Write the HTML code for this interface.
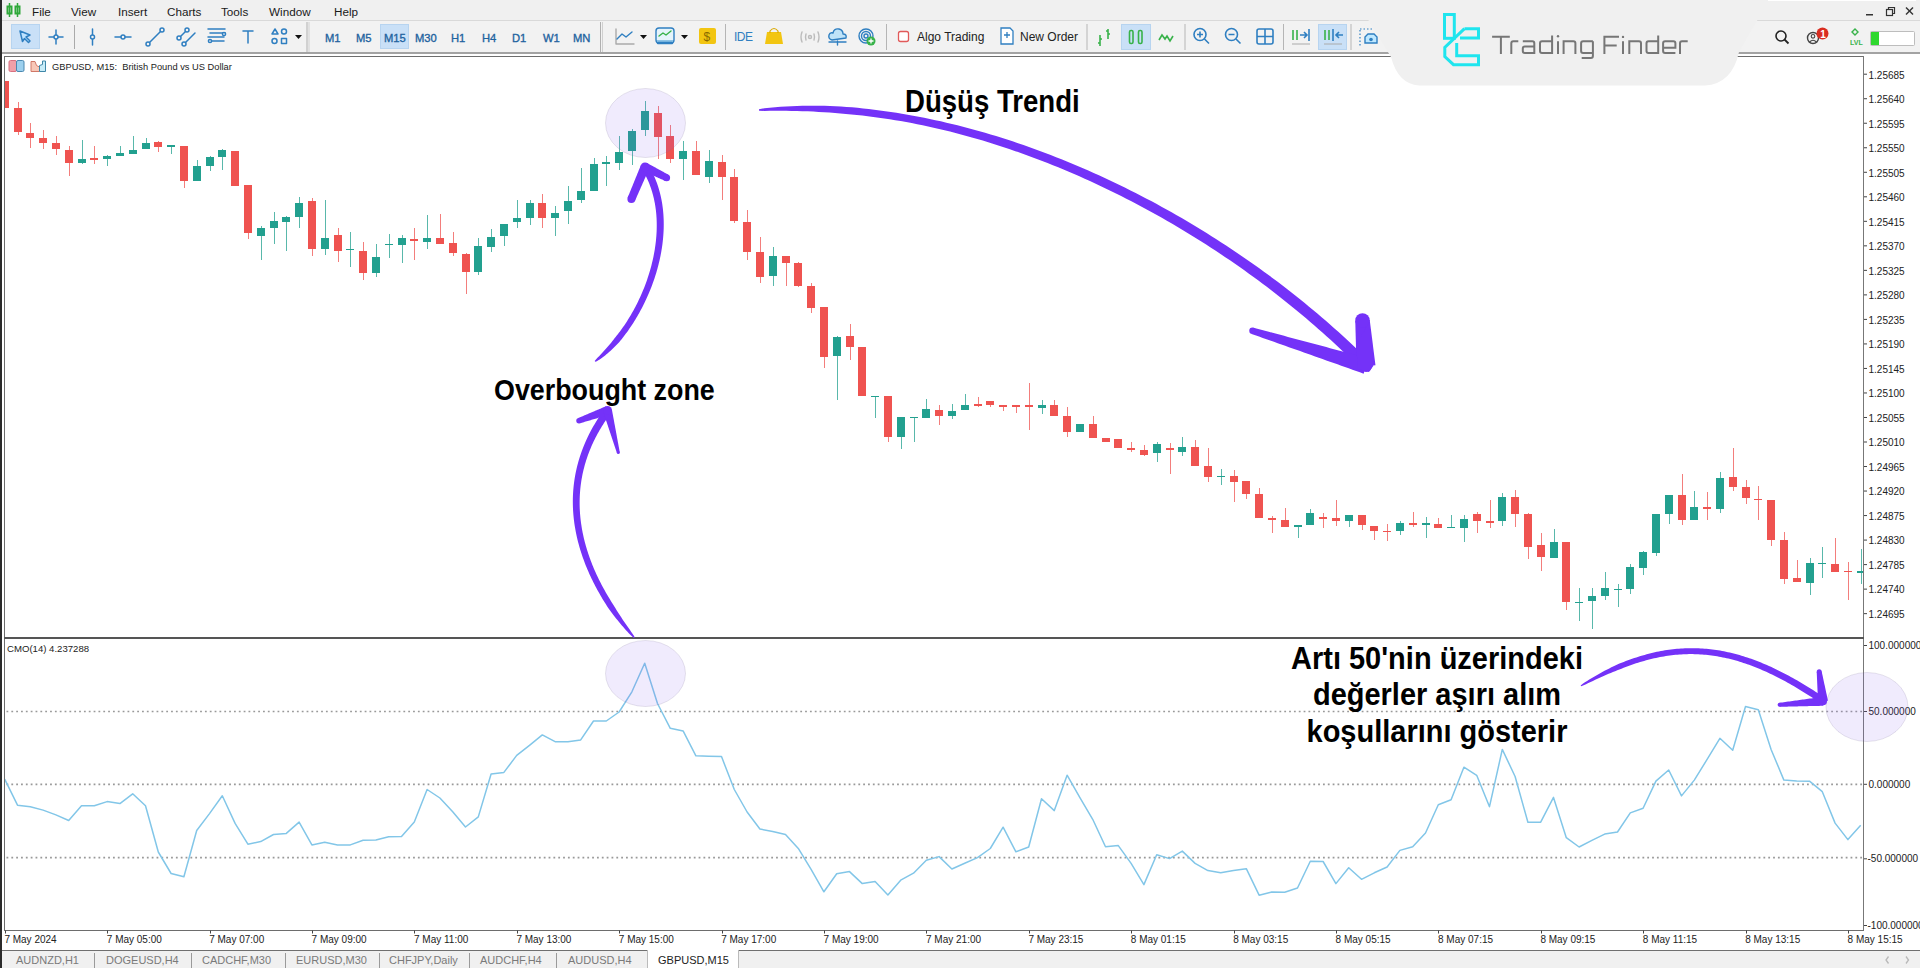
<!DOCTYPE html>
<html><head><meta charset="utf-8">
<style>
*{margin:0;padding:0;box-sizing:border-box}
html,body{width:1920px;height:968px;overflow:hidden;background:#f0f0f0;font-family:"Liberation Sans",sans-serif}
.a{position:absolute}
#menu{left:0;top:0;width:1920px;height:21px;background:#f0f0f0}
#menu span{position:absolute;top:4.5px;font-size:11.7px;color:#1a1a1a}
#mline{left:0;top:20px;width:1920px;height:1px;background:#d9d9d9}
#tb{left:0;top:21px;width:1920px;height:31px;background:#f2f2f2}
#tbl{left:0;top:52px;width:1920px;height:2px;background:#a3a3a3}
#white{left:2px;top:54px;width:1918px;height:896px;background:#fff}
#lbar{left:0;top:0;width:2px;height:968px;background:#2b2b2b}
.sel{position:absolute;background:#c9e0f7;border:1px solid #b7d4f0}
.sep{position:absolute;top:25px;width:1px;height:24px;background:#b5b5b5}
.tf{position:absolute;top:31.8px;font-size:11.2px;color:#1f639f;-webkit-text-stroke:0.35px #1f639f}
.tt{position:absolute;top:30px;font-size:12px;color:#222}
#tabs{left:2px;top:950px;width:1918px;height:18px;background:#f0f0f0;border-top:1.5px solid #6f6f6f}
#tabs span{position:absolute;top:3px;font-size:11px;color:#7a7a7a;white-space:nowrap}
#tabs i{position:absolute;top:2px;width:1px;height:16px;background:#9a9a9a}
.ann{position:absolute;font-weight:bold;color:#000;white-space:nowrap;transform-origin:0 0}
</style></head><body>
<div class="a" id="menu">
  <svg class="a" style="left:6px;top:3px" width="16" height="15" viewBox="0 0 16 15">
    <g fill="none" stroke="#2fa83a" stroke-width="2"><rect x="1.5" y="3.5" width="4" height="7"/><rect x="9.5" y="3.5" width="4" height="7"/></g>
    <g stroke="#2fa83a" stroke-width="1.5"><line x1="3.5" y1="0" x2="3.5" y2="14"/><line x1="11.5" y1="0" x2="11.5" y2="14"/></g>
  </svg>
  <span style="left:32px">File</span><span style="left:71px">View</span><span style="left:118px">Insert</span>
  <span style="left:167px">Charts</span><span style="left:221px">Tools</span><span style="left:269px">Window</span><span style="left:334px">Help</span>
  <svg class="a" style="left:1862px;top:5px" width="56" height="14" viewBox="0 0 56 14">
    <rect x="4" y="9" width="7" height="1.5" fill="#333"/>
    <g fill="none" stroke="#333" stroke-width="1.2"><rect x="24.5" y="4.5" width="6" height="6"/><path d="M26.5 4.5V2.5h6v6h-2"/></g>
    <g stroke="#333" stroke-width="1.4"><line x1="44" y1="2.5" x2="51" y2="9.5"/><line x1="51" y1="2.5" x2="44" y2="9.5"/></g>
  </svg>
</div>
<div class="a" id="mline"></div>
<div class="a" id="tb"></div>
<div class="a" id="tbl"></div>
<div class="a" id="white"></div>

<!-- toolbar contents -->
<div class="sel" style="left:11px;top:24px;width:29px;height:25px"></div>
<div class="sel" style="left:380px;top:24px;width:29px;height:25px"></div>
<div class="sel" style="left:1121px;top:24px;width:30px;height:26px"></div>
<div class="sel" style="left:1318px;top:24px;width:29px;height:26px"></div>
<svg class="a" style="left:0;top:21px" width="1400" height="32" viewBox="0 21 1400 32">
 <g fill="#f2f2f2" stroke="#2f7fc1" stroke-width="1.5" stroke-linecap="round" stroke-linejoin="round">
  <path d="M20 31 L30 35 L26 37 L30 41 L28.5 42.5 L24.5 38.5 L22.5 41.5 Z" fill="#bfe3ff"/>
  <path d="M49 37h14M56 30v14"/><circle cx="56" cy="37" r="2"/>
  <path d="M92.5 29v16"/><circle cx="92.5" cy="37" r="2"/>
  <path d="M115 37h16"/><circle cx="123" cy="37" r="2"/>
  <path d="M149 43L161 31"/><circle cx="148" cy="44" r="2"/><circle cx="162" cy="30" r="2"/>
  <path d="M180 37L186 31M184 44L195 33"/><circle cx="179" cy="38" r="2"/><circle cx="187" cy="30" r="2"/><circle cx="184" cy="44" r="2"/>
  <path d="M208 29h17M210 33h15M208 37h16M210 41h14"/><circle cx="224" cy="34" r="1.6"/><circle cx="210" cy="41" r="1.6"/>
  <path d="M243 31h10M248 31v12"/>
  <path d="M272 34l3-5 3 5z"/><circle cx="284" cy="31.5" r="2.5"/><circle cx="274.5" cy="41" r="2.5"/><rect x="281.5" y="38.5" width="5" height="5"/>
 </g>
 <path d="M295 35h7l-3.5 4z" fill="#111"/>
 <rect x="74" y="25" width="1" height="24" fill="#aaa"/>
 <rect x="306.5" y="22" width="1" height="30" fill="#b0b0b0"/><rect x="308.5" y="22" width="1" height="30" fill="#d0d0d0"/>
</svg>
<span class="tf" style="left:325px">M1</span><span class="tf" style="left:356px">M5</span><span class="tf" style="left:384px">M15</span>
<span class="tf" style="left:415px">M30</span><span class="tf" style="left:451px">H1</span><span class="tf" style="left:482px">H4</span>
<span class="tf" style="left:512px">D1</span><span class="tf" style="left:543px">W1</span><span class="tf" style="left:573px">MN</span>
<svg class="a" style="left:590px;top:21px" width="800" height="32" viewBox="590 21 800 32">
 <rect x="600" y="22" width="1" height="30" fill="#b0b0b0"/><rect x="602" y="22" width="1" height="30" fill="#d0d0d0"/>
 <g fill="none" stroke-width="1.4" stroke-linecap="round" stroke-linejoin="round">
  <path d="M616 29v15h18" stroke="#aaa"/><path d="M617 39l5-5 4 3 6-5" stroke="#2f7fc1"/>
  <rect x="656" y="28" width="18" height="15" rx="3" stroke="#2f7fc1" fill="#e6f4fb"/><path d="M659 36l4-3 3 2 5-4" stroke="#38b24a"/><path d="M657 40h16v2.5h-16z" fill="#8cc3e6" stroke="none"/>
  <path d="M658 43h14" stroke="#2f7fc1" stroke-width="2.5"/>
  <path d="M802 32q-2 5 0 10M806 34q-1 3 0 6M814 34q1 3 0 6M818 32q2 5 0 10" stroke="#bbb"/><circle cx="810" cy="37" r="1.5" stroke="#bbb"/>
  <path d="M832 40q-4-1-3-5 1-3 4-2 1-5 6-4 4 1 4 5 4 0 3 4z" stroke="#2f7fc1" fill="#bfe3f8"/><path d="M829 42h17M837.5 41v4" stroke="#2f7fc1"/>
  <circle cx="866" cy="36" r="7" stroke="#2f7fc1"/><circle cx="866" cy="36" r="4.5" stroke="#2f7fc1"/><circle cx="866" cy="36" r="2" stroke="#2f7fc1"/>
 </g>
 <path d="M640 35h7l-3.5 4z M681 35h7l-3.5 4z" fill="#111"/>
 <rect x="699" y="28" width="17" height="16" rx="2" fill="#f2c511"/><text x="703.5" y="41" font-size="12" fill="#8a6a00" font-family="Liberation Sans">$</text>
 <rect x="725" y="24" width="1" height="26" fill="#b5b5b5"/>
 <text x="734" y="41" font-size="12" fill="#2f7fc1" font-family="Liberation Sans" letter-spacing="-0.5">IDE</text>
 <path d="M767 32h14l2 12h-18z" fill="#f2c511"/><path d="M770 33v-2q4-5 8 0v2" fill="none" stroke="#d9a800" stroke-width="1.2"/>
 <circle cx="871" cy="41" r="4.5" fill="#38b24a"/><path d="M871 38.5v5M868.5 41h5" stroke="#fff" stroke-width="1.3"/>
 <rect x="886" y="24" width="1" height="26" fill="#b5b5b5"/>
 <rect x="898.5" y="31.5" width="10" height="10" rx="2" fill="#fff" stroke="#e15a5a" stroke-width="1.3"/>
 <path d="M1001 28h9l3 3v13h-12z" fill="#fff" stroke="#2f7fc1" stroke-width="1.3"/><path d="M1007 32v6M1004 35h6" stroke="#2f7fc1" stroke-width="1.3"/>
 <rect x="1086.5" y="24" width="1" height="26" fill="#b5b5b5"/>
 <g stroke="#38b24a" stroke-width="1.6" fill="none">
  <path d="M1100 35v11M1100 39h2M1098 43h2M1108 29v10M1106 31h2M1108 34h2"/>
  <rect x="1129.5" y="30.5" width="3.5" height="13" rx="1.5"/><rect x="1138.5" y="30.5" width="3.5" height="13" rx="1.5"/>
  <path d="M1159 40l3-5 3 4 2-3 3 5 3-5"/>
 </g>
 <rect x="1184.5" y="24" width="1" height="26" fill="#b5b5b5"/>
 <g stroke="#2f7fc1" stroke-width="1.6" fill="none">
  <circle cx="1200" cy="34.5" r="6"/><path d="M1204.5 39l4.5 4.5M1197 34.5h6M1200 31.5v6"/>
  <circle cx="1231.5" cy="34.5" r="6"/><path d="M1236 39l4.5 4.5M1228.5 34.5h6"/>
  <rect x="1257" y="29" width="16" height="15" rx="2"/><path d="M1265 29v15M1257 36.5h16"/>
 </g>
 <rect x="1283" y="24" width="1" height="26" fill="#b5b5b5"/>
 <g stroke-width="1.6" fill="none">
  <path d="M1293 30v10M1297 30v10" stroke="#38b24a"/><path d="M1300 35h7M1304 32l3 3-3 3M1309 29v12" stroke="#2f7fc1"/>
  <path d="M1325 30v10M1329 30v10" stroke="#38b24a"/><path d="M1333 29v12M1336 35h7M1339 32l-3 3 3 3" stroke="#2f7fc1"/>
  <path d="M1292 44h18M1324 44h18" stroke="#aaa" stroke-width="1"/>
 </g>
 <rect x="1350.5" y="24" width="1" height="26" fill="#b5b5b5"/>
 <path d="M1360 30v16M1360 29h12" stroke="#2f7fc1" stroke-width="1.2" stroke-dasharray="1.5 2" fill="none"/>
 <path d="M1365 43v-6l3-3h6l3 3v6z" fill="#bfe8ff" stroke="#2f7fc1" stroke-width="1.4"/><circle cx="1371" cy="39.5" r="1.8" fill="#2f7fc1"/>
</svg>
<span class="tt" style="left:917px">Algo Trading</span>
<span class="tt" style="left:1020px">New Order</span>

<svg id="ch" class="a" style="left:0;top:0" width="1920" height="968" viewBox="0 0 1920 968">
<defs><clipPath id="cm"><rect x="5" y="57" width="1858.5" height="581"/></clipPath><clipPath id="ci"><rect x="5" y="639" width="1858.5" height="291"/></clipPath></defs>
<g clip-path="url(#cm)" shape-rendering="crispEdges">
<rect x="5" y="81" width="1" height="27.2" fill="#ef5350" opacity="0.75"/>
<rect x="1" y="81" width="8" height="27.2" fill="#ef5350"/>
<rect x="18" y="101.7" width="1" height="32.8" fill="#ef5350" opacity="0.75"/>
<rect x="14" y="107.8" width="8" height="24.5" fill="#ef5350"/>
<rect x="30" y="122.7" width="1" height="25.4" fill="#ef5350" opacity="0.75"/>
<rect x="26" y="132.6" width="8" height="5" fill="#ef5350"/>
<rect x="43" y="129.5" width="1" height="19.9" fill="#ef5350" opacity="0.75"/>
<rect x="39" y="138.2" width="8" height="5" fill="#ef5350"/>
<rect x="56" y="136.4" width="1" height="18.6" fill="#ef5350" opacity="0.75"/>
<rect x="52" y="142.9" width="8" height="6.1" fill="#ef5350"/>
<rect x="69" y="146.3" width="1" height="29.7" fill="#ef5350" opacity="0.75"/>
<rect x="65" y="150" width="8" height="13" fill="#ef5350"/>
<rect x="82" y="140" width="1" height="24.3" fill="#22a08f" opacity="0.75"/>
<rect x="78" y="158.7" width="8" height="4.3" fill="#22a08f"/>
<rect x="94" y="145.7" width="1" height="18.6" fill="#ef5350" opacity="0.75"/>
<rect x="90" y="158.4" width="8" height="1.2" fill="#ef5350"/>
<rect x="107" y="154.9" width="1" height="10.6" fill="#22a08f" opacity="0.75"/>
<rect x="103" y="155.6" width="8" height="3.3" fill="#22a08f"/>
<rect x="120" y="145.8" width="1" height="9.8" fill="#22a08f" opacity="0.75"/>
<rect x="116" y="153.1" width="8" height="2.5" fill="#22a08f"/>
<rect x="133" y="135.9" width="1" height="17.9" fill="#22a08f" opacity="0.75"/>
<rect x="129" y="150.2" width="8" height="3.6" fill="#22a08f"/>
<rect x="146" y="137.8" width="1" height="10.9" fill="#22a08f" opacity="0.75"/>
<rect x="142" y="142.9" width="8" height="5.8" fill="#22a08f"/>
<rect x="158" y="140.7" width="1" height="10.9" fill="#ef5350" opacity="0.75"/>
<rect x="154" y="142.1" width="8" height="4.4" fill="#ef5350"/>
<rect x="171" y="145.4" width="1" height="8.4" fill="#22a08f" opacity="0.75"/>
<rect x="167" y="145.4" width="8" height="1.2" fill="#22a08f"/>
<rect x="184" y="146.2" width="1" height="41.5" fill="#ef5350" opacity="0.75"/>
<rect x="180" y="146.2" width="8" height="35" fill="#ef5350"/>
<rect x="197" y="160" width="1" height="21.2" fill="#22a08f" opacity="0.75"/>
<rect x="193" y="165.8" width="8" height="15.4" fill="#22a08f"/>
<rect x="210" y="156.4" width="1" height="14.2" fill="#22a08f" opacity="0.75"/>
<rect x="206" y="157.1" width="8" height="8.7" fill="#22a08f"/>
<rect x="222" y="149.4" width="1" height="20.5" fill="#22a08f" opacity="0.75"/>
<rect x="218" y="150.2" width="8" height="6.9" fill="#22a08f"/>
<rect x="235" y="150.8" width="1" height="35.2" fill="#ef5350" opacity="0.75"/>
<rect x="231" y="150.8" width="8" height="35.2" fill="#ef5350"/>
<rect x="248" y="185.2" width="1" height="54" fill="#ef5350" opacity="0.75"/>
<rect x="244" y="185.2" width="8" height="47.8" fill="#ef5350"/>
<rect x="261" y="226" width="1" height="34.1" fill="#22a08f" opacity="0.75"/>
<rect x="257" y="227.6" width="8" height="8.4" fill="#22a08f"/>
<rect x="274" y="212" width="1" height="31.8" fill="#22a08f" opacity="0.75"/>
<rect x="270" y="221.4" width="8" height="6.2" fill="#22a08f"/>
<rect x="286" y="216" width="1" height="34.8" fill="#22a08f" opacity="0.75"/>
<rect x="282" y="216.7" width="8" height="5.4" fill="#22a08f"/>
<rect x="299" y="196.6" width="1" height="31" fill="#22a08f" opacity="0.75"/>
<rect x="295" y="202.5" width="8" height="14.5" fill="#22a08f"/>
<rect x="312" y="198.1" width="1" height="57.4" fill="#ef5350" opacity="0.75"/>
<rect x="308" y="200.9" width="8" height="48.4" fill="#ef5350"/>
<rect x="325" y="200.4" width="1" height="54.3" fill="#22a08f" opacity="0.75"/>
<rect x="321" y="237.6" width="8" height="11.7" fill="#22a08f"/>
<rect x="338" y="227.6" width="1" height="34.8" fill="#ef5350" opacity="0.75"/>
<rect x="334" y="234.5" width="8" height="16.3" fill="#ef5350"/>
<rect x="350" y="232.2" width="1" height="34.8" fill="#22a08f" opacity="0.75"/>
<rect x="346" y="248.8" width="8" height="1.2" fill="#22a08f"/>
<rect x="363" y="242.3" width="1" height="37.2" fill="#ef5350" opacity="0.75"/>
<rect x="359" y="250.8" width="8" height="22.5" fill="#ef5350"/>
<rect x="376" y="243.8" width="1" height="33.3" fill="#22a08f" opacity="0.75"/>
<rect x="372" y="257" width="8" height="16" fill="#22a08f"/>
<rect x="389" y="233.8" width="1" height="24" fill="#22a08f" opacity="0.75"/>
<rect x="385" y="244.1" width="8" height="1.2" fill="#22a08f"/>
<rect x="402" y="234.6" width="1" height="28.7" fill="#22a08f" opacity="0.75"/>
<rect x="398" y="238.4" width="8" height="7" fill="#22a08f"/>
<rect x="414" y="227.5" width="1" height="32.6" fill="#ef5350" opacity="0.75"/>
<rect x="410" y="238.7" width="8" height="2.6" fill="#ef5350"/>
<rect x="427" y="215.1" width="1" height="34.1" fill="#22a08f" opacity="0.75"/>
<rect x="423" y="238.4" width="8" height="4" fill="#22a08f"/>
<rect x="440" y="214" width="1" height="29.8" fill="#ef5350" opacity="0.75"/>
<rect x="436" y="238.4" width="8" height="5.4" fill="#ef5350"/>
<rect x="453" y="232.4" width="1" height="23.4" fill="#ef5350" opacity="0.75"/>
<rect x="449" y="242.7" width="8" height="10.3" fill="#ef5350"/>
<rect x="466" y="253" width="1" height="40.7" fill="#ef5350" opacity="0.75"/>
<rect x="462" y="254.1" width="8" height="17.9" fill="#ef5350"/>
<rect x="478" y="237.9" width="1" height="36.8" fill="#22a08f" opacity="0.75"/>
<rect x="474" y="246" width="8" height="26" fill="#22a08f"/>
<rect x="491" y="229.2" width="1" height="22.8" fill="#22a08f" opacity="0.75"/>
<rect x="487" y="237.3" width="8" height="9.8" fill="#22a08f"/>
<rect x="504" y="223.7" width="1" height="22.3" fill="#22a08f" opacity="0.75"/>
<rect x="500" y="223.7" width="8" height="12.5" fill="#22a08f"/>
<rect x="517" y="199.9" width="1" height="27.6" fill="#22a08f" opacity="0.75"/>
<rect x="513" y="217.8" width="8" height="3.8" fill="#22a08f"/>
<rect x="530" y="200.4" width="1" height="25" fill="#22a08f" opacity="0.75"/>
<rect x="526" y="203.1" width="8" height="15.2" fill="#22a08f"/>
<rect x="542" y="194.3" width="1" height="33.6" fill="#ef5350" opacity="0.75"/>
<rect x="538" y="202.6" width="8" height="15.7" fill="#ef5350"/>
<rect x="555" y="206.3" width="1" height="29.6" fill="#22a08f" opacity="0.75"/>
<rect x="551" y="212.7" width="8" height="5.6" fill="#22a08f"/>
<rect x="568" y="186.3" width="1" height="37.6" fill="#22a08f" opacity="0.75"/>
<rect x="564" y="201" width="8" height="10.1" fill="#22a08f"/>
<rect x="581" y="167.9" width="1" height="35.2" fill="#22a08f" opacity="0.75"/>
<rect x="577" y="191.4" width="8" height="9" fill="#22a08f"/>
<rect x="594" y="158.3" width="1" height="32.5" fill="#22a08f" opacity="0.75"/>
<rect x="590" y="164.2" width="8" height="26.6" fill="#22a08f"/>
<rect x="606" y="155.8" width="1" height="29.7" fill="#22a08f" opacity="0.75"/>
<rect x="602" y="162.3" width="8" height="1.6" fill="#22a08f"/>
<rect x="619" y="135.8" width="1" height="33.7" fill="#22a08f" opacity="0.75"/>
<rect x="615" y="152.3" width="8" height="10.3" fill="#22a08f"/>
<rect x="632" y="128.6" width="1" height="36.1" fill="#22a08f" opacity="0.75"/>
<rect x="628" y="130.5" width="8" height="20.9" fill="#22a08f"/>
<rect x="645" y="100.6" width="1" height="35.2" fill="#22a08f" opacity="0.75"/>
<rect x="641" y="111" width="8" height="18.9" fill="#22a08f"/>
<rect x="658" y="106.2" width="1" height="52.8" fill="#ef5350" opacity="0.75"/>
<rect x="654" y="112.6" width="8" height="24" fill="#ef5350"/>
<rect x="670" y="124.6" width="1" height="38.4" fill="#ef5350" opacity="0.75"/>
<rect x="666" y="135.8" width="8" height="23.2" fill="#ef5350"/>
<rect x="683" y="140.6" width="1" height="39.3" fill="#22a08f" opacity="0.75"/>
<rect x="679" y="151.4" width="8" height="7.2" fill="#22a08f"/>
<rect x="696" y="140.6" width="1" height="34.5" fill="#ef5350" opacity="0.75"/>
<rect x="692" y="151.4" width="8" height="23.7" fill="#ef5350"/>
<rect x="709" y="149.9" width="1" height="32.7" fill="#22a08f" opacity="0.75"/>
<rect x="705" y="161.2" width="8" height="15.5" fill="#22a08f"/>
<rect x="722" y="155.2" width="1" height="44.6" fill="#ef5350" opacity="0.75"/>
<rect x="718" y="161.8" width="8" height="14.9" fill="#ef5350"/>
<rect x="734" y="169.4" width="1" height="53.2" fill="#ef5350" opacity="0.75"/>
<rect x="730" y="176.7" width="8" height="44.6" fill="#ef5350"/>
<rect x="747" y="210.2" width="1" height="49.6" fill="#ef5350" opacity="0.75"/>
<rect x="743" y="221.8" width="8" height="30.6" fill="#ef5350"/>
<rect x="760" y="236.7" width="1" height="46.3" fill="#ef5350" opacity="0.75"/>
<rect x="756" y="252.4" width="8" height="24.8" fill="#ef5350"/>
<rect x="773" y="246.6" width="1" height="38.9" fill="#22a08f" opacity="0.75"/>
<rect x="769" y="255.7" width="8" height="20.2" fill="#22a08f"/>
<rect x="786" y="256.2" width="1" height="29.3" fill="#ef5350" opacity="0.75"/>
<rect x="782" y="256.2" width="8" height="6.9" fill="#ef5350"/>
<rect x="798" y="261.5" width="1" height="25.6" fill="#ef5350" opacity="0.75"/>
<rect x="794" y="263.1" width="8" height="22.4" fill="#ef5350"/>
<rect x="811" y="283.4" width="1" height="29.7" fill="#ef5350" opacity="0.75"/>
<rect x="807" y="285.8" width="8" height="21.9" fill="#ef5350"/>
<rect x="824" y="306.8" width="1" height="60.8" fill="#ef5350" opacity="0.75"/>
<rect x="820" y="306.8" width="8" height="50.2" fill="#ef5350"/>
<rect x="837" y="336" width="1" height="63.8" fill="#22a08f" opacity="0.75"/>
<rect x="833" y="336.6" width="8" height="19.5" fill="#22a08f"/>
<rect x="850" y="323.9" width="1" height="35.7" fill="#ef5350" opacity="0.75"/>
<rect x="846" y="335.6" width="8" height="11" fill="#ef5350"/>
<rect x="862" y="346.6" width="1" height="48.9" fill="#ef5350" opacity="0.75"/>
<rect x="858" y="346.6" width="8" height="48.9" fill="#ef5350"/>
<rect x="875" y="395.5" width="1" height="22.3" fill="#22a08f" opacity="0.75"/>
<rect x="871" y="395.5" width="8" height="1.2" fill="#22a08f"/>
<rect x="888" y="396.1" width="1" height="45.9" fill="#ef5350" opacity="0.75"/>
<rect x="884" y="396.1" width="8" height="41.2" fill="#ef5350"/>
<rect x="901" y="417.3" width="1" height="32.1" fill="#22a08f" opacity="0.75"/>
<rect x="897" y="417.3" width="8" height="19.7" fill="#22a08f"/>
<rect x="914" y="416.5" width="1" height="25.5" fill="#22a08f" opacity="0.75"/>
<rect x="910" y="416.5" width="8" height="1.2" fill="#22a08f"/>
<rect x="926" y="398.9" width="1" height="19" fill="#22a08f" opacity="0.75"/>
<rect x="922" y="408.5" width="8" height="9.4" fill="#22a08f"/>
<rect x="939" y="404.7" width="1" height="19.9" fill="#ef5350" opacity="0.75"/>
<rect x="935" y="409.5" width="8" height="6.7" fill="#ef5350"/>
<rect x="952" y="404.2" width="1" height="15.1" fill="#22a08f" opacity="0.75"/>
<rect x="948" y="410.9" width="8" height="5.3" fill="#22a08f"/>
<rect x="965" y="394" width="1" height="15.7" fill="#22a08f" opacity="0.75"/>
<rect x="961" y="405.3" width="8" height="4.4" fill="#22a08f"/>
<rect x="978" y="396.7" width="1" height="10.6" fill="#ef5350" opacity="0.75"/>
<rect x="974" y="404.2" width="8" height="1.3" fill="#ef5350"/>
<rect x="990" y="400.5" width="1" height="6.8" fill="#ef5350" opacity="0.75"/>
<rect x="986" y="400.5" width="8" height="4.6" fill="#ef5350"/>
<rect x="1003" y="405.3" width="1" height="5.6" fill="#ef5350" opacity="0.75"/>
<rect x="999" y="405.3" width="8" height="1.2" fill="#ef5350"/>
<rect x="1016" y="404.9" width="1" height="7.7" fill="#ef5350" opacity="0.75"/>
<rect x="1012" y="404.9" width="8" height="1.8" fill="#ef5350"/>
<rect x="1029" y="382.5" width="1" height="47" fill="#ef5350" opacity="0.75"/>
<rect x="1025" y="404.9" width="8" height="1.8" fill="#ef5350"/>
<rect x="1042" y="400.2" width="1" height="13.3" fill="#22a08f" opacity="0.75"/>
<rect x="1038" y="404.9" width="8" height="3.3" fill="#22a08f"/>
<rect x="1054" y="400.2" width="1" height="15.4" fill="#ef5350" opacity="0.75"/>
<rect x="1050" y="405.1" width="8" height="10.5" fill="#ef5350"/>
<rect x="1067" y="406.9" width="1" height="30.1" fill="#ef5350" opacity="0.75"/>
<rect x="1063" y="416.2" width="8" height="15.5" fill="#ef5350"/>
<rect x="1080" y="424.1" width="1" height="7.8" fill="#22a08f" opacity="0.75"/>
<rect x="1076" y="424.1" width="8" height="7.8" fill="#22a08f"/>
<rect x="1093" y="416.2" width="1" height="21.7" fill="#ef5350" opacity="0.75"/>
<rect x="1089" y="424.1" width="8" height="13.8" fill="#ef5350"/>
<rect x="1106" y="438.1" width="1" height="3.6" fill="#ef5350" opacity="0.75"/>
<rect x="1102" y="438.1" width="8" height="3.6" fill="#ef5350"/>
<rect x="1118" y="439.1" width="1" height="8.8" fill="#ef5350" opacity="0.75"/>
<rect x="1114" y="439.1" width="8" height="8.8" fill="#ef5350"/>
<rect x="1131" y="442.2" width="1" height="10.1" fill="#ef5350" opacity="0.75"/>
<rect x="1127" y="448.4" width="8" height="1.2" fill="#ef5350"/>
<rect x="1144" y="444.5" width="1" height="11.1" fill="#ef5350" opacity="0.75"/>
<rect x="1140" y="449.6" width="8" height="5" fill="#ef5350"/>
<rect x="1157" y="441.7" width="1" height="20.1" fill="#22a08f" opacity="0.75"/>
<rect x="1153" y="444.3" width="8" height="9" fill="#22a08f"/>
<rect x="1170" y="442.7" width="1" height="31.5" fill="#ef5350" opacity="0.75"/>
<rect x="1166" y="448.4" width="8" height="1.2" fill="#ef5350"/>
<rect x="1182" y="437" width="1" height="18.6" fill="#22a08f" opacity="0.75"/>
<rect x="1178" y="446.8" width="8" height="4.7" fill="#22a08f"/>
<rect x="1195" y="439.6" width="1" height="26.6" fill="#ef5350" opacity="0.75"/>
<rect x="1191" y="447.4" width="8" height="18.8" fill="#ef5350"/>
<rect x="1208" y="448.4" width="1" height="33.6" fill="#ef5350" opacity="0.75"/>
<rect x="1204" y="466.2" width="8" height="10.9" fill="#ef5350"/>
<rect x="1221" y="468.5" width="1" height="16" fill="#22a08f" opacity="0.75"/>
<rect x="1217" y="475.8" width="8" height="1.3" fill="#22a08f"/>
<rect x="1234" y="470.1" width="1" height="31.5" fill="#ef5350" opacity="0.75"/>
<rect x="1230" y="475.8" width="8" height="5.9" fill="#ef5350"/>
<rect x="1246" y="480.6" width="1" height="18.2" fill="#ef5350" opacity="0.75"/>
<rect x="1242" y="480.6" width="8" height="13.5" fill="#ef5350"/>
<rect x="1259" y="488.2" width="1" height="30.1" fill="#ef5350" opacity="0.75"/>
<rect x="1255" y="494.1" width="8" height="24.2" fill="#ef5350"/>
<rect x="1272" y="516" width="1" height="17.3" fill="#ef5350" opacity="0.75"/>
<rect x="1268" y="518.3" width="8" height="1.5" fill="#ef5350"/>
<rect x="1285" y="508.1" width="1" height="19" fill="#ef5350" opacity="0.75"/>
<rect x="1281" y="520" width="8" height="7.1" fill="#ef5350"/>
<rect x="1298" y="525.3" width="1" height="12.9" fill="#22a08f" opacity="0.75"/>
<rect x="1294" y="525.3" width="8" height="1.4" fill="#22a08f"/>
<rect x="1310" y="508.5" width="1" height="16.8" fill="#22a08f" opacity="0.75"/>
<rect x="1306" y="512.9" width="8" height="12.4" fill="#22a08f"/>
<rect x="1323" y="512.5" width="1" height="15.1" fill="#ef5350" opacity="0.75"/>
<rect x="1319" y="516.8" width="8" height="1.7" fill="#ef5350"/>
<rect x="1336" y="500.1" width="1" height="26.1" fill="#ef5350" opacity="0.75"/>
<rect x="1332" y="518.3" width="8" height="3.1" fill="#ef5350"/>
<rect x="1349" y="515.2" width="1" height="11.9" fill="#22a08f" opacity="0.75"/>
<rect x="1345" y="515.2" width="8" height="6" fill="#22a08f"/>
<rect x="1362" y="515.2" width="1" height="14.6" fill="#ef5350" opacity="0.75"/>
<rect x="1358" y="515.2" width="8" height="10.1" fill="#ef5350"/>
<rect x="1374" y="526" width="1" height="14.4" fill="#ef5350" opacity="0.75"/>
<rect x="1370" y="526" width="8" height="4.9" fill="#ef5350"/>
<rect x="1387" y="524.2" width="1" height="16.6" fill="#ef5350" opacity="0.75"/>
<rect x="1383" y="530.7" width="8" height="1.2" fill="#ef5350"/>
<rect x="1400" y="521.4" width="1" height="13.7" fill="#22a08f" opacity="0.75"/>
<rect x="1396" y="523.1" width="8" height="7.8" fill="#22a08f"/>
<rect x="1413" y="512.3" width="1" height="15.1" fill="#ef5350" opacity="0.75"/>
<rect x="1409" y="523.4" width="8" height="1.3" fill="#ef5350"/>
<rect x="1426" y="516.7" width="1" height="20.9" fill="#22a08f" opacity="0.75"/>
<rect x="1422" y="523.4" width="8" height="1.2" fill="#22a08f"/>
<rect x="1438" y="518.1" width="1" height="9.7" fill="#ef5350" opacity="0.75"/>
<rect x="1434" y="523.6" width="8" height="4.2" fill="#ef5350"/>
<rect x="1451" y="514.5" width="1" height="13.3" fill="#22a08f" opacity="0.75"/>
<rect x="1447" y="526.7" width="8" height="1.2" fill="#22a08f"/>
<rect x="1464" y="515.4" width="1" height="26.1" fill="#22a08f" opacity="0.75"/>
<rect x="1460" y="518.5" width="8" height="9.3" fill="#22a08f"/>
<rect x="1477" y="511.9" width="1" height="21.2" fill="#ef5350" opacity="0.75"/>
<rect x="1473" y="514.1" width="8" height="7.1" fill="#ef5350"/>
<rect x="1490" y="499.9" width="1" height="27.9" fill="#ef5350" opacity="0.75"/>
<rect x="1486" y="520.7" width="8" height="2.2" fill="#ef5350"/>
<rect x="1502" y="492.8" width="1" height="33.2" fill="#22a08f" opacity="0.75"/>
<rect x="1498" y="497.3" width="8" height="23.9" fill="#22a08f"/>
<rect x="1515" y="489.7" width="1" height="36.8" fill="#ef5350" opacity="0.75"/>
<rect x="1511" y="497.3" width="8" height="16.8" fill="#ef5350"/>
<rect x="1528" y="513.2" width="1" height="46.1" fill="#ef5350" opacity="0.75"/>
<rect x="1524" y="514.1" width="8" height="33.3" fill="#ef5350"/>
<rect x="1541" y="532.8" width="1" height="38.3" fill="#ef5350" opacity="0.75"/>
<rect x="1537" y="545.3" width="8" height="11.9" fill="#ef5350"/>
<rect x="1554" y="528.6" width="1" height="29.7" fill="#22a08f" opacity="0.75"/>
<rect x="1550" y="541.6" width="8" height="16.7" fill="#22a08f"/>
<rect x="1566" y="541.6" width="1" height="67.9" fill="#ef5350" opacity="0.75"/>
<rect x="1562" y="541.6" width="8" height="60.5" fill="#ef5350"/>
<rect x="1579" y="588.1" width="1" height="33.2" fill="#22a08f" opacity="0.75"/>
<rect x="1575" y="601.8" width="8" height="1.4" fill="#22a08f"/>
<rect x="1592" y="587.6" width="1" height="41.4" fill="#22a08f" opacity="0.75"/>
<rect x="1588" y="595.5" width="8" height="5.6" fill="#22a08f"/>
<rect x="1605" y="571.8" width="1" height="28.6" fill="#22a08f" opacity="0.75"/>
<rect x="1601" y="588.1" width="8" height="7.9" fill="#22a08f"/>
<rect x="1618" y="584.4" width="1" height="22.3" fill="#22a08f" opacity="0.75"/>
<rect x="1614" y="588.6" width="8" height="1.4" fill="#22a08f"/>
<rect x="1630" y="564.4" width="1" height="29.7" fill="#22a08f" opacity="0.75"/>
<rect x="1626" y="567.2" width="8" height="21.4" fill="#22a08f"/>
<rect x="1643" y="550.9" width="1" height="23.7" fill="#22a08f" opacity="0.75"/>
<rect x="1639" y="552.3" width="8" height="15.6" fill="#22a08f"/>
<rect x="1656" y="514.2" width="1" height="41.6" fill="#22a08f" opacity="0.75"/>
<rect x="1652" y="514.2" width="8" height="38.8" fill="#22a08f"/>
<rect x="1669" y="495" width="1" height="28.7" fill="#22a08f" opacity="0.75"/>
<rect x="1665" y="495" width="8" height="19.2" fill="#22a08f"/>
<rect x="1682" y="473.6" width="1" height="51.6" fill="#ef5350" opacity="0.75"/>
<rect x="1678" y="495.3" width="8" height="24.5" fill="#ef5350"/>
<rect x="1694" y="491.1" width="1" height="28.7" fill="#22a08f" opacity="0.75"/>
<rect x="1690" y="507.4" width="8" height="12.4" fill="#22a08f"/>
<rect x="1707" y="491.7" width="1" height="27.8" fill="#ef5350" opacity="0.75"/>
<rect x="1703" y="507.1" width="8" height="1.6" fill="#ef5350"/>
<rect x="1720" y="472" width="1" height="41.3" fill="#22a08f" opacity="0.75"/>
<rect x="1716" y="478" width="8" height="31" fill="#22a08f"/>
<rect x="1733" y="448.3" width="1" height="42.3" fill="#ef5350" opacity="0.75"/>
<rect x="1729" y="477" width="8" height="9.5" fill="#ef5350"/>
<rect x="1746" y="480.3" width="1" height="23.2" fill="#ef5350" opacity="0.75"/>
<rect x="1742" y="486.5" width="8" height="11.6" fill="#ef5350"/>
<rect x="1758" y="485.5" width="1" height="34" fill="#ef5350" opacity="0.75"/>
<rect x="1754" y="498.9" width="8" height="1.5" fill="#ef5350"/>
<rect x="1771" y="500.2" width="1" height="45.6" fill="#ef5350" opacity="0.75"/>
<rect x="1767" y="500.2" width="8" height="40" fill="#ef5350"/>
<rect x="1784" y="532.1" width="1" height="51.5" fill="#ef5350" opacity="0.75"/>
<rect x="1780" y="540.2" width="8" height="39.1" fill="#ef5350"/>
<rect x="1797" y="560" width="1" height="22.4" fill="#ef5350" opacity="0.75"/>
<rect x="1793" y="578.3" width="8" height="4.1" fill="#ef5350"/>
<rect x="1810" y="557.9" width="1" height="37.5" fill="#22a08f" opacity="0.75"/>
<rect x="1806" y="562.9" width="8" height="20.3" fill="#22a08f"/>
<rect x="1822" y="547" width="1" height="31" fill="#22a08f" opacity="0.75"/>
<rect x="1818" y="562.9" width="8" height="1.5" fill="#22a08f"/>
<rect x="1835" y="537.7" width="1" height="33.9" fill="#ef5350" opacity="0.75"/>
<rect x="1831" y="563.8" width="8" height="7.8" fill="#ef5350"/>
<rect x="1848" y="561.9" width="1" height="37.8" fill="#ef5350" opacity="0.75"/>
<rect x="1844" y="570.6" width="8" height="1.5" fill="#ef5350"/>
<rect x="1861" y="548.9" width="1" height="34.7" fill="#22a08f" opacity="0.75"/>
<rect x="1857" y="570.8" width="8" height="2.5" fill="#22a08f"/>
</g>
<g stroke="#999" stroke-width="1.7" stroke-dasharray="1.8 3.04">
<line x1="6.5" y1="711.5" x2="1863" y2="711.5"/>
<line x1="6.5" y1="784.3" x2="1863" y2="784.3"/>
<line x1="6.5" y1="857.6" x2="1863" y2="857.6"/>
</g>
<polyline clip-path="url(#ci)" points="4.7,779.1 17.5,805.2 30.3,806.7 43.1,810.1 55.9,814.9 68.7,820.5 81.5,805.8 94.3,805.8 107.1,801.6 119.9,803.6 132.7,793.8 145.5,805.8 158.3,852 171.1,873.5 183.9,876.8 196.7,830.5 209.5,813.6 222.3,795.8 235.1,823.4 247.9,844.2 260.7,841.6 273.5,834.5 286.3,833.4 299.1,822.1 311.9,844.9 324.7,842.3 337.5,844.9 350.3,844.9 363.1,840.3 375.9,839.9 388.7,836.7 401.5,836.4 414.3,822.1 427.1,789.5 439.9,798 452.7,811.7 465.5,827 478.3,816.9 491.1,774 503.9,772.4 516.7,755.4 529.5,745.3 542.3,734.9 555.1,741.7 567.9,741.7 580.7,739.9 593.5,721 606.3,721 619.1,712 631.9,691.8 644.7,663.2 657.5,703.5 670.3,728.3 683.1,730.9 695.9,755.8 708.7,756.2 721.5,756.6 734.3,789.5 747.1,812 759.9,829 772.7,831.4 785.5,834.5 798.3,848.4 811.1,869.3 823.9,891.8 836.7,873.7 849.5,871.6 862.3,883.6 875.1,881.4 887.9,894.9 900.7,880.2 913.5,873.2 926.3,860.3 939.1,856.6 951.9,869 964.7,863.3 977.5,857.6 990.3,848.5 1003.1,827.2 1015.9,851.8 1028.7,847 1041.5,798.8 1054.3,810.6 1067.1,775.2 1079.9,797.6 1092.7,819.3 1105.5,846.8 1118.3,845.6 1131.1,863.4 1143.9,884.6 1156.7,854.7 1169.5,858.6 1182.3,851.1 1195.1,863.4 1207.9,870.6 1220.7,872.8 1233.5,870.6 1246.3,868.7 1259.1,895.2 1271.9,891.9 1284.7,892.3 1297.5,888 1310.3,861.2 1323.1,861.5 1335.9,883.6 1348.7,867.7 1361.5,879.3 1374.3,872.8 1387.1,867 1399.9,850.4 1412.7,846.8 1425.5,833 1438.3,804.8 1451.1,799.8 1463.9,767.2 1476.7,775.3 1489.5,806.7 1502.3,749.4 1515.1,776.5 1527.9,822.2 1540.7,822.2 1553.5,797.4 1566.3,837.7 1579.1,847 1591.9,840.3 1604.7,834.1 1617.5,832 1630.3,812.9 1643.1,808.3 1655.9,781.1 1668.7,770 1681.5,795.9 1694.3,780.1 1707.1,759.4 1719.9,738.3 1732.7,750.3 1745.5,706.5 1758.3,709.8 1771.1,749.5 1783.9,780.1 1796.7,780.9 1809.5,781.2 1822.3,791.7 1835.1,823.1 1847.9,839.6 1860.7,825.2" fill="none" stroke="#82c6e8" stroke-width="1.5" stroke-linejoin="round"/>
<g fill="rgba(130,90,240,0.12)" stroke="rgba(120,110,150,0.18)" stroke-width="1">
<ellipse cx="645.5" cy="123" rx="40" ry="34.5"/>
<ellipse cx="645.5" cy="673.5" rx="40" ry="33"/>
</g>
<g fill="#6d6d6d" shape-rendering="crispEdges">
<rect x="4" y="56" width="1860" height="1"/>
<rect x="4" y="56" width="1" height="875"/>
<rect x="1863" y="56" width="1.3" height="875" fill="#777"/>
<rect x="4" y="930" width="1860" height="1"/>
<rect x="4" y="637.4" width="1860" height="2" fill="#555"/>
</g>
<g font-family="Liberation Sans, sans-serif" font-size="10" fill="#222">
<rect x="1864" y="73.7" width="3" height="1" fill="#444"/>
<text x="1868.5" y="78.5">1.25685</text>
<rect x="1864" y="98.22" width="3" height="1" fill="#444"/>
<text x="1868.5" y="103.02">1.25640</text>
<rect x="1864" y="122.74" width="3" height="1" fill="#444"/>
<text x="1868.5" y="127.54">1.25595</text>
<rect x="1864" y="147.26" width="3" height="1" fill="#444"/>
<text x="1868.5" y="152.06">1.25550</text>
<rect x="1864" y="171.78" width="3" height="1" fill="#444"/>
<text x="1868.5" y="176.58">1.25505</text>
<rect x="1864" y="196.3" width="3" height="1" fill="#444"/>
<text x="1868.5" y="201.1">1.25460</text>
<rect x="1864" y="220.82" width="3" height="1" fill="#444"/>
<text x="1868.5" y="225.62">1.25415</text>
<rect x="1864" y="245.34" width="3" height="1" fill="#444"/>
<text x="1868.5" y="250.14">1.25370</text>
<rect x="1864" y="269.86" width="3" height="1" fill="#444"/>
<text x="1868.5" y="274.66">1.25325</text>
<rect x="1864" y="294.38" width="3" height="1" fill="#444"/>
<text x="1868.5" y="299.18">1.25280</text>
<rect x="1864" y="318.9" width="3" height="1" fill="#444"/>
<text x="1868.5" y="323.7">1.25235</text>
<rect x="1864" y="343.42" width="3" height="1" fill="#444"/>
<text x="1868.5" y="348.22">1.25190</text>
<rect x="1864" y="367.94" width="3" height="1" fill="#444"/>
<text x="1868.5" y="372.74">1.25145</text>
<rect x="1864" y="392.46" width="3" height="1" fill="#444"/>
<text x="1868.5" y="397.26">1.25100</text>
<rect x="1864" y="416.98" width="3" height="1" fill="#444"/>
<text x="1868.5" y="421.78">1.25055</text>
<rect x="1864" y="441.5" width="3" height="1" fill="#444"/>
<text x="1868.5" y="446.3">1.25010</text>
<rect x="1864" y="466.02" width="3" height="1" fill="#444"/>
<text x="1868.5" y="470.82">1.24965</text>
<rect x="1864" y="490.54" width="3" height="1" fill="#444"/>
<text x="1868.5" y="495.34">1.24920</text>
<rect x="1864" y="515.06" width="3" height="1" fill="#444"/>
<text x="1868.5" y="519.86">1.24875</text>
<rect x="1864" y="539.58" width="3" height="1" fill="#444"/>
<text x="1868.5" y="544.38">1.24830</text>
<rect x="1864" y="564.1" width="3" height="1" fill="#444"/>
<text x="1868.5" y="568.9">1.24785</text>
<rect x="1864" y="588.62" width="3" height="1" fill="#444"/>
<text x="1868.5" y="593.42">1.24740</text>
<rect x="1864" y="613.14" width="3" height="1" fill="#444"/>
<text x="1868.5" y="617.94">1.24695</text>
<rect x="1864" y="645" width="3" height="1" fill="#444"/>
<text x="1868.5" y="649.1">100.000000</text>
<rect x="1864" y="711" width="3" height="1" fill="#444"/>
<text x="1868.5" y="715.1">50.000000</text>
<rect x="1864" y="783.8" width="3" height="1" fill="#444"/>
<text x="1868.5" y="787.9">0.000000</text>
<rect x="1864" y="858.3" width="3" height="1" fill="#444"/>
<text x="1867.5" y="862.4">-50.000000</text>
<rect x="1864" y="925" width="3" height="1" fill="#444"/>
<text x="1867.5" y="929.1">-100.000000</text>
<rect x="5" y="930.5" width="1" height="3" fill="#444"/>
<text x="4.4" y="942.6">7 May 2024</text>
<rect x="107" y="930.5" width="1" height="3" fill="#444"/>
<text x="106.8" y="942.6">7 May 05:00</text>
<rect x="210" y="930.5" width="1" height="3" fill="#444"/>
<text x="209.2" y="942.6">7 May 07:00</text>
<rect x="312" y="930.5" width="1" height="3" fill="#444"/>
<text x="311.6" y="942.6">7 May 09:00</text>
<rect x="414" y="930.5" width="1" height="3" fill="#444"/>
<text x="414" y="942.6">7 May 11:00</text>
<rect x="517" y="930.5" width="1" height="3" fill="#444"/>
<text x="516.4" y="942.6">7 May 13:00</text>
<rect x="619" y="930.5" width="1" height="3" fill="#444"/>
<text x="618.8" y="942.6">7 May 15:00</text>
<rect x="722" y="930.5" width="1" height="3" fill="#444"/>
<text x="721.2" y="942.6">7 May 17:00</text>
<rect x="824" y="930.5" width="1" height="3" fill="#444"/>
<text x="823.6" y="942.6">7 May 19:00</text>
<rect x="926" y="930.5" width="1" height="3" fill="#444"/>
<text x="926" y="942.6">7 May 21:00</text>
<rect x="1029" y="930.5" width="1" height="3" fill="#444"/>
<text x="1028.4" y="942.6">7 May 23:15</text>
<rect x="1131" y="930.5" width="1" height="3" fill="#444"/>
<text x="1130.8" y="942.6">8 May 01:15</text>
<rect x="1234" y="930.5" width="1" height="3" fill="#444"/>
<text x="1233.2" y="942.6">8 May 03:15</text>
<rect x="1336" y="930.5" width="1" height="3" fill="#444"/>
<text x="1335.6" y="942.6">8 May 05:15</text>
<rect x="1438" y="930.5" width="1" height="3" fill="#444"/>
<text x="1438" y="942.6">8 May 07:15</text>
<rect x="1541" y="930.5" width="1" height="3" fill="#444"/>
<text x="1540.4" y="942.6">8 May 09:15</text>
<rect x="1643" y="930.5" width="1" height="3" fill="#444"/>
<text x="1642.8" y="942.6">8 May 11:15</text>
<rect x="1746" y="930.5" width="1" height="3" fill="#444"/>
<text x="1745.2" y="942.6">8 May 13:15</text>
<rect x="1848" y="930.5" width="1" height="3" fill="#444"/>
<text x="1847.6" y="942.6">8 May 15:15</text>
<g>
<rect x="9" y="60.5" width="7.5" height="11" rx="1.5" fill="#f0a0a8" stroke="#d87080" stroke-width="1"/>
<rect x="16.5" y="60.5" width="7.5" height="11" rx="1.5" fill="#9cd0ee" stroke="#4a88b0" stroke-width="1"/>
<path d="M31 61.5h4l1.5 4 3 1.5v4.5h-8.5z" fill="#f8c8b8" stroke="#d07868" stroke-width="1"/>
<path d="M39.5 65.5l3-1v-3.5h3v10.5h-6z" fill="#c8ecf8" stroke="#3f87a8" stroke-width="1"/>
</g>
<text x="52" y="69.6" font-size="9.3" xml:space="preserve">GBPUSD, M15:  British Pound vs US Dollar</text>
<text x="7" y="651.5" font-size="9.6">CMO(14) 4.237288</text>
</g>
<ellipse cx="1867" cy="707" rx="41" ry="34.5" fill="rgba(130,90,240,0.12)" stroke="rgba(120,110,150,0.18)"/>
<g fill="#7432f8">
<path d="M759.05 110.75 L764.48 110.92 L769.88 110.87 L775.28 110.83 L780.69 110.82 L786.1 110.84 L791.52 110.9 L796.94 111 L802.36 111.16 L807.79 111.35 L813.23 111.6 L818.67 111.89 L824.11 112.23 L829.55 112.62 L835 113.06 L840.46 113.49 L845.92 113.93 L851.39 114.42 L856.86 114.97 L862.34 115.57 L867.82 116.21 L873.3 116.9 L878.78 117.65 L884.26 118.44 L889.74 119.28 L895.23 120.17 L900.72 121.11 L906.2 122.09 L911.69 123.12 L917.17 124.2 L922.66 125.32 L928.14 126.49 L933.62 127.7 L939.1 128.96 L944.57 130.27 L950.04 131.62 L955.51 133.01 L960.98 134.45 L966.44 135.93 L971.89 137.45 L977.34 139.01 L982.79 140.62 L988.23 142.27 L993.66 143.96 L999.09 145.69 L1004.51 147.47 L1009.92 149.28 L1015.32 151.13 L1020.72 153.03 L1026.11 154.96 L1031.48 156.93 L1036.85 158.94 L1042.21 160.99 L1047.56 163.08 L1052.9 165.2 L1058.23 167.36 L1063.54 169.56 L1068.85 171.79 L1074.14 174.06 L1079.42 176.37 L1084.69 178.71 L1089.94 181.09 L1095.18 183.5 L1100.4 185.94 L1105.61 188.42 L1110.81 190.94 L1115.99 193.48 L1121.15 196.06 L1126.3 198.67 L1131.43 201.32 L1136.55 203.99 L1141.65 206.7 L1146.73 209.43 L1151.79 212.2 L1156.83 215 L1161.86 217.83 L1166.86 220.68 L1171.85 223.57 L1176.81 226.49 L1181.76 229.43 L1186.68 232.4 L1191.58 235.4 L1196.46 238.43 L1201.32 241.48 L1206.16 244.56 L1210.97 247.67 L1215.76 250.8 L1220.53 253.96 L1225.27 257.14 L1229.99 260.35 L1234.68 263.58 L1239.35 266.84 L1243.99 270.12 L1248.6 273.42 L1253.19 276.75 L1257.76 280.1 L1262.29 283.47 L1266.8 286.86 L1271.28 290.27 L1275.73 293.71 L1280.15 297.16 L1284.54 300.64 L1288.91 304.14 L1293.24 307.65 L1297.54 311.19 L1301.81 314.74 L1306.06 318.31 L1310.26 321.9 L1314.44 325.51 L1318.59 329.14 L1322.7 332.78 L1326.78 336.44 L1330.82 340.11 L1334.83 343.8 L1338.81 347.51 L1342.75 351.23 L1346.66 354.97 L1350.53 358.72 L1354.36 362.48 L1358.16 366.26 L1361.93 370.07 L1370.07 361.93 L1366.23 358.13 L1362.35 354.33 L1358.43 350.55 L1354.48 346.77 L1350.49 343.02 L1346.47 339.28 L1342.41 335.56 L1338.32 331.85 L1334.19 328.16 L1330.03 324.48 L1325.84 320.83 L1321.62 317.19 L1317.36 313.57 L1313.07 309.97 L1308.75 306.39 L1304.4 302.82 L1300.02 299.28 L1295.61 295.76 L1291.17 292.25 L1286.7 288.77 L1282.2 285.31 L1277.67 281.87 L1273.12 278.45 L1268.53 275.05 L1263.92 271.68 L1259.29 268.33 L1254.62 265 L1249.93 261.7 L1245.21 258.42 L1240.47 255.16 L1235.7 251.93 L1230.91 248.72 L1226.1 245.54 L1221.26 242.39 L1216.39 239.26 L1211.51 236.15 L1206.6 233.08 L1201.66 230.03 L1196.71 227.01 L1191.74 224.01 L1186.74 221.05 L1181.72 218.11 L1176.68 215.2 L1171.63 212.32 L1166.55 209.47 L1161.45 206.65 L1156.34 203.87 L1151.21 201.11 L1146.05 198.38 L1140.89 195.68 L1135.7 193.02 L1130.5 190.39 L1125.28 187.79 L1120.04 185.22 L1114.79 182.69 L1109.52 180.19 L1104.24 177.73 L1098.95 175.3 L1093.64 172.9 L1088.31 170.54 L1082.98 168.21 L1077.63 165.92 L1072.27 163.67 L1066.89 161.45 L1061.51 159.27 L1056.11 157.13 L1050.7 155.02 L1045.28 152.95 L1039.85 150.93 L1034.41 148.93 L1028.97 146.98 L1023.51 145.07 L1018.04 143.2 L1012.57 141.37 L1007.09 139.58 L1001.6 137.82 L996.1 136.11 L990.6 134.45 L985.09 132.82 L979.58 131.24 L974.06 129.7 L968.53 128.2 L963 126.74 L957.47 125.33 L951.93 123.97 L946.39 122.65 L940.84 121.37 L935.3 120.14 L929.75 118.95 L924.19 117.81 L918.64 116.72 L913.09 115.67 L907.53 114.67 L901.98 113.72 L896.42 112.81 L890.87 111.96 L885.32 111.15 L879.76 110.39 L874.21 109.68 L868.67 109.02 L863.12 108.41 L857.58 107.85 L852.04 107.34 L846.5 106.89 L840.97 106.48 L835.44 106.16 L829.91 105.96 L824.39 105.81 L818.88 105.72 L813.37 105.68 L807.88 105.71 L802.39 105.79 L796.91 105.94 L791.45 106.15 L785.99 106.42 L780.55 106.77 L775.12 107.19 L769.7 107.69 L764.3 108.31 L758.95 109.25 Z"/><path d="M1375.47 365.27 L1375.28 363.76 L1375.09 362.25 L1374.9 360.74 L1374.71 359.23 L1374.51 357.72 L1374.32 356.21 L1374.13 354.69 L1373.94 353.18 L1373.75 351.67 L1373.56 350.16 L1373.37 348.65 L1373.17 347.14 L1372.98 345.63 L1372.79 344.12 L1372.6 342.61 L1372.41 341.1 L1372.22 339.59 L1372.03 338.07 L1371.83 336.56 L1371.64 335.05 L1371.45 333.54 L1371.26 332.03 L1371.07 330.52 L1370.88 329.01 L1370.69 327.5 L1370.49 325.99 L1370.3 324.48 L1370.11 322.97 L1369.92 321.45 L1369.73 319.94 L1355.27 321.06 L1355.31 322.58 L1355.36 324.1 L1355.4 325.62 L1355.44 327.15 L1355.48 328.67 L1355.52 330.19 L1355.56 331.71 L1355.61 333.24 L1355.65 334.76 L1355.69 336.28 L1355.73 337.8 L1355.77 339.33 L1355.82 340.85 L1355.86 342.37 L1355.9 343.89 L1355.94 345.41 L1355.98 346.94 L1356.03 348.46 L1356.07 349.98 L1356.11 351.5 L1356.15 353.03 L1356.19 354.55 L1356.23 356.07 L1356.28 357.59 L1356.32 359.12 L1356.36 360.64 L1356.4 362.16 L1356.44 363.68 L1356.49 365.21 L1356.53 366.73 Z"/><path d="M1368.37 358.36 L1364.54 357.34 L1360.71 356.31 L1356.88 355.29 L1353.05 354.27 L1349.22 353.25 L1345.39 352.23 L1341.56 351.2 L1337.73 350.18 L1333.9 349.16 L1330.07 348.14 L1326.24 347.12 L1322.41 346.09 L1318.58 345.07 L1314.75 344.05 L1310.92 343.03 L1307.09 342.01 L1303.26 340.98 L1299.43 339.96 L1295.6 338.94 L1291.77 337.92 L1287.93 336.89 L1284.1 335.87 L1280.27 334.85 L1276.44 333.83 L1272.61 332.81 L1268.78 331.78 L1264.95 330.76 L1261.12 329.74 L1257.29 328.72 L1253.46 327.7 L1251.54 333.9 L1255.27 335.23 L1259.01 336.55 L1262.75 337.88 L1266.48 339.2 L1270.22 340.53 L1273.96 341.85 L1277.69 343.18 L1281.43 344.5 L1285.17 345.83 L1288.9 347.15 L1292.64 348.47 L1296.37 349.8 L1300.11 351.12 L1303.85 352.45 L1307.58 353.77 L1311.32 355.1 L1315.06 356.42 L1318.79 357.75 L1322.53 359.07 L1326.27 360.4 L1330 361.72 L1333.74 363.04 L1337.48 364.37 L1341.21 365.69 L1344.95 367.02 L1348.68 368.34 L1352.42 369.67 L1356.16 370.99 L1359.89 372.32 L1363.63 373.64 Z"/><circle cx="1362.5" cy="320.5" r="7.25"/><circle cx="1252.5" cy="330.8" r="3.25"/><circle cx="1366" cy="366" r="6"/>
<path d="M1356 345 L1369.3 322 L1373.3 366 L1369 372 L1358 369 Z"/>
<path d="M595.31 361.8 L596.86 361.15 L598.29 360.3 L599.68 359.4 L601.06 358.45 L602.42 357.46 L603.77 356.44 L605.11 355.39 L606.44 354.31 L607.75 353.2 L609.06 352.07 L610.35 350.91 L611.64 349.73 L612.92 348.53 L614.18 347.3 L615.44 346.05 L616.68 344.78 L617.92 343.48 L619.14 342.17 L620.29 340.79 L621.44 339.39 L622.57 337.97 L623.69 336.53 L624.8 335.08 L625.9 333.62 L626.99 332.13 L628.07 330.63 L629.13 329.12 L630.18 327.59 L631.22 326.05 L632.25 324.49 L633.27 322.92 L634.27 321.33 L635.26 319.73 L636.23 318.12 L637.19 316.49 L638.14 314.86 L639.07 313.21 L639.99 311.55 L640.9 309.87 L641.79 308.19 L642.67 306.49 L643.53 304.79 L644.38 303.07 L645.21 301.35 L646.03 299.61 L646.83 297.87 L647.61 296.11 L648.38 294.35 L649.13 292.58 L649.87 290.8 L650.59 289.01 L651.29 287.22 L651.98 285.42 L652.65 283.61 L653.3 281.79 L653.93 279.97 L654.55 278.15 L655.15 276.32 L655.72 274.48 L656.29 272.64 L656.83 270.79 L657.35 268.94 L657.86 267.08 L658.34 265.23 L658.81 263.36 L659.26 261.5 L659.68 259.63 L660.09 257.76 L660.48 255.89 L660.84 254.01 L661.19 252.14 L661.51 250.26 L661.81 248.38 L662.1 246.5 L662.36 244.63 L662.6 242.75 L662.81 240.87 L663.01 238.99 L663.18 237.12 L663.33 235.24 L663.46 233.37 L663.56 231.5 L663.64 229.63 L663.7 227.76 L663.73 225.9 L663.74 224.03 L663.73 222.18 L663.69 220.32 L663.62 218.48 L663.53 216.63 L663.42 214.79 L663.28 212.96 L663.12 211.13 L662.93 209.3 L662.71 207.48 L662.47 205.67 L662.2 203.87 L661.9 202.07 L661.58 200.28 L661.23 198.5 L660.86 196.72 L660.45 194.96 L660.02 193.2 L659.56 191.45 L659.07 189.71 L658.55 187.98 L658.01 186.27 L657.43 184.56 L656.83 182.86 L656.19 181.17 L655.53 179.5 L654.84 177.84 L654.11 176.19 L653.36 174.55 L652.57 172.92 L651.76 171.31 L650.91 169.72 L650.03 168.13 L649.12 166.57 L648.2 165.04 L641.8 168.96 L642.7 170.41 L643.55 171.85 L644.37 173.3 L645.16 174.76 L645.93 176.25 L646.67 177.74 L647.38 179.25 L648.06 180.77 L648.72 182.3 L649.34 183.85 L649.95 185.41 L650.52 186.98 L651.07 188.57 L651.59 190.16 L652.09 191.77 L652.56 193.39 L653 195.02 L653.42 196.66 L653.81 198.31 L654.18 199.97 L654.52 201.64 L654.84 203.32 L655.13 205 L655.4 206.7 L655.64 208.41 L655.86 210.12 L656.05 211.84 L656.22 213.57 L656.37 215.3 L656.49 217.04 L656.59 218.79 L656.66 220.55 L656.71 222.31 L656.74 224.07 L656.75 225.84 L656.73 227.62 L656.69 229.4 L656.63 231.18 L656.54 232.97 L656.43 234.76 L656.31 236.55 L656.15 238.35 L655.98 240.15 L655.79 241.95 L655.57 243.75 L655.34 245.56 L655.08 247.36 L654.81 249.17 L654.51 250.97 L654.19 252.78 L653.85 254.58 L653.49 256.39 L653.12 258.19 L652.72 260 L652.3 261.8 L651.87 263.6 L651.41 265.39 L650.94 267.19 L650.45 268.98 L649.94 270.76 L649.41 272.55 L648.86 274.33 L648.3 276.1 L647.72 277.87 L647.12 279.64 L646.5 281.4 L645.87 283.15 L645.22 284.9 L644.55 286.64 L643.87 288.38 L643.17 290.1 L642.45 291.82 L641.72 293.54 L640.98 295.24 L640.21 296.94 L639.44 298.62 L638.64 300.3 L637.84 301.97 L637.01 303.63 L636.18 305.28 L635.33 306.92 L634.46 308.54 L633.58 310.16 L632.69 311.77 L631.79 313.36 L630.87 314.94 L629.94 316.51 L628.99 318.06 L628.03 319.61 L627.06 321.14 L626.08 322.65 L625.09 324.15 L624.08 325.64 L623.07 327.11 L622.04 328.57 L621 330.01 L619.95 331.44 L618.89 332.84 L617.82 334.24 L616.73 335.61 L615.64 336.97 L614.54 338.32 L613.49 339.69 L612.42 341.05 L611.35 342.39 L610.27 343.72 L609.19 345.03 L608.09 346.33 L606.99 347.61 L605.88 348.87 L604.76 350.12 L603.63 351.35 L602.51 352.57 L601.37 353.77 L600.23 354.96 L599.09 356.14 L597.95 357.31 L596.82 358.48 L595.7 359.67 L594.69 361 Z"/><path d="M640.86 165.24 L640.42 166.31 L639.98 167.39 L639.54 168.46 L639.11 169.53 L638.67 170.61 L638.23 171.68 L637.79 172.75 L637.35 173.83 L636.92 174.9 L636.48 175.97 L636.04 177.04 L635.6 178.12 L635.16 179.19 L634.73 180.26 L634.29 181.34 L633.85 182.41 L633.41 183.48 L632.97 184.56 L632.54 185.63 L632.1 186.7 L631.66 187.78 L631.22 188.85 L630.78 189.92 L630.35 191 L629.91 192.07 L629.47 193.14 L629.03 194.22 L628.59 195.29 L628.16 196.36 L627.72 197.44 L635.08 200.56 L635.55 199.5 L636.02 198.44 L636.49 197.38 L636.96 196.32 L637.42 195.26 L637.89 194.2 L638.36 193.14 L638.83 192.08 L639.3 191.02 L639.77 189.96 L640.24 188.9 L640.71 187.84 L641.17 186.78 L641.64 185.72 L642.11 184.66 L642.58 183.6 L643.05 182.54 L643.52 181.48 L643.99 180.42 L644.45 179.36 L644.92 178.3 L645.39 177.24 L645.86 176.18 L646.33 175.12 L646.8 174.06 L647.27 173 L647.74 171.94 L648.2 170.88 L648.67 169.82 L649.14 168.76 Z"/><path d="M643 171.03 L643.74 171.36 L644.47 171.69 L645.21 172.01 L645.94 172.34 L646.68 172.67 L647.41 172.99 L648.15 173.32 L648.88 173.65 L649.62 173.97 L650.35 174.3 L651.09 174.63 L651.82 174.95 L652.55 175.28 L653.29 175.61 L654.02 175.93 L654.76 176.26 L655.49 176.59 L656.23 176.91 L656.96 177.24 L657.7 177.57 L658.43 177.9 L659.17 178.22 L659.9 178.55 L660.64 178.88 L661.37 179.2 L662.11 179.53 L662.84 179.86 L663.58 180.18 L664.31 180.51 L665.05 180.84 L668.15 174.56 L667.45 174.18 L666.74 173.79 L666.04 173.4 L665.33 173.02 L664.63 172.63 L663.92 172.24 L663.22 171.86 L662.51 171.47 L661.81 171.08 L661.1 170.7 L660.4 170.31 L659.69 169.93 L658.99 169.54 L658.28 169.15 L657.58 168.77 L656.87 168.38 L656.17 167.99 L655.46 167.61 L654.75 167.22 L654.05 166.83 L653.34 166.45 L652.64 166.06 L651.93 165.67 L651.23 165.29 L650.52 164.9 L649.82 164.51 L649.11 164.13 L648.41 163.74 L647.7 163.35 L647 162.97 Z"/><circle cx="631.4" cy="199" r="4"/><circle cx="666.6" cy="177.7" r="3.5"/><circle cx="645" cy="167" r="4.5"/>
<path d="M634.68 637.28 L633.59 635.31 L632.35 633.48 L631.09 631.67 L629.84 629.87 L628.58 628.08 L627.33 626.29 L626.09 624.5 L624.86 622.71 L623.64 620.92 L622.44 619.13 L621.24 617.33 L620.06 615.54 L618.89 613.74 L617.74 611.94 L616.6 610.13 L615.48 608.32 L614.37 606.51 L613.28 604.7 L612.14 602.92 L611.01 601.14 L609.9 599.36 L608.81 597.57 L607.74 595.77 L606.69 593.98 L605.65 592.17 L604.63 590.37 L603.62 588.55 L602.64 586.74 L601.67 584.92 L600.73 583.1 L599.8 581.27 L598.89 579.44 L597.99 577.6 L597.12 575.76 L596.27 573.92 L595.43 572.08 L594.62 570.23 L593.82 568.38 L593.05 566.52 L592.29 564.66 L591.56 562.8 L590.84 560.94 L590.15 559.07 L589.48 557.21 L588.82 555.33 L588.19 553.46 L587.58 551.59 L586.99 549.71 L586.42 547.83 L585.88 545.94 L585.35 544.06 L584.85 542.17 L584.37 540.28 L583.91 538.39 L583.48 536.5 L583.06 534.61 L582.67 532.71 L582.3 530.81 L581.96 528.92 L581.64 527.02 L581.34 525.12 L581.07 523.22 L580.81 521.31 L580.59 519.41 L580.38 517.5 L580.2 515.6 L580.05 513.69 L579.92 511.79 L579.81 509.88 L579.73 507.97 L579.67 506.06 L579.64 504.15 L579.64 502.24 L579.66 500.33 L579.7 498.42 L579.77 496.51 L579.87 494.6 L579.99 492.69 L580.14 490.78 L580.31 488.87 L580.51 486.96 L580.74 485.05 L580.99 483.14 L581.27 481.24 L581.58 479.33 L581.92 477.42 L582.28 475.51 L582.67 473.6 L583.09 471.7 L583.54 469.79 L584.01 467.89 L584.51 465.98 L585.05 464.08 L585.61 462.18 L586.19 460.28 L586.81 458.38 L587.46 456.48 L588.13 454.58 L588.84 452.68 L589.58 450.79 L590.34 448.89 L591.14 447 L591.96 445.11 L592.82 443.22 L593.71 441.33 L594.62 439.44 L595.57 437.56 L596.55 435.67 L597.56 433.79 L598.61 431.91 L599.68 430.04 L600.79 428.16 L601.93 426.29 L603.1 424.41 L604.3 422.55 L605.54 420.68 L606.81 418.81 L608.11 416.95 L609.44 415.09 L610.83 413.22 L604.77 408.78 L603.38 410.71 L602 412.65 L600.65 414.6 L599.34 416.55 L598.07 418.51 L596.83 420.46 L595.62 422.42 L594.44 424.39 L593.3 426.36 L592.19 428.33 L591.11 430.3 L590.07 432.27 L589.05 434.25 L588.07 436.23 L587.13 438.21 L586.21 440.2 L585.33 442.19 L584.48 444.17 L583.66 446.17 L582.87 448.16 L582.11 450.15 L581.38 452.15 L580.69 454.15 L580.02 456.14 L579.39 458.14 L578.78 460.15 L578.21 462.15 L577.67 464.15 L577.15 466.16 L576.67 468.16 L576.22 470.17 L575.79 472.17 L575.39 474.18 L575.03 476.18 L574.69 478.19 L574.38 480.2 L574.1 482.2 L573.85 484.21 L573.63 486.22 L573.43 488.22 L573.26 490.23 L573.12 492.23 L573.01 494.24 L572.92 496.24 L572.86 498.24 L572.83 500.25 L572.83 502.25 L572.85 504.25 L572.9 506.24 L572.97 508.24 L573.07 510.23 L573.2 512.23 L573.35 514.22 L573.53 516.21 L573.73 518.2 L573.96 520.18 L574.21 522.17 L574.48 524.15 L574.79 526.13 L575.11 528.11 L575.46 530.08 L575.83 532.06 L576.23 534.03 L576.65 535.99 L577.1 537.96 L577.56 539.92 L578.05 541.88 L578.57 543.83 L579.1 545.79 L579.66 547.74 L580.24 549.68 L580.84 551.62 L581.47 553.56 L582.11 555.5 L582.78 557.43 L583.47 559.36 L584.18 561.29 L584.91 563.21 L585.66 565.13 L586.43 567.04 L587.22 568.95 L588.04 570.85 L588.87 572.75 L589.72 574.65 L590.59 576.54 L591.49 578.43 L592.4 580.32 L593.33 582.2 L594.28 584.07 L595.24 585.94 L596.23 587.8 L597.23 589.66 L598.26 591.52 L599.3 593.37 L600.36 595.21 L601.43 597.05 L602.53 598.89 L603.64 600.72 L604.77 602.54 L605.91 604.36 L607.07 606.17 L608.25 607.98 L609.51 609.74 L610.79 611.49 L612.08 613.23 L613.39 614.97 L614.72 616.7 L616.07 618.41 L617.43 620.12 L618.81 621.82 L620.21 623.51 L621.63 625.19 L623.06 626.85 L624.51 628.51 L625.99 630.15 L627.48 631.78 L629 633.39 L630.55 634.97 L632.15 636.52 L633.92 637.92 Z"/><path d="M605.98 406.26 L605.05 406.66 L604.12 407.05 L603.19 407.45 L602.26 407.84 L601.33 408.24 L600.4 408.63 L599.47 409.03 L598.54 409.42 L597.61 409.82 L596.68 410.21 L595.75 410.61 L594.82 411 L593.89 411.4 L592.96 411.79 L592.03 412.19 L591.1 412.58 L590.17 412.98 L589.24 413.37 L588.31 413.77 L587.38 414.16 L586.45 414.56 L585.52 414.95 L584.59 415.35 L583.66 415.74 L582.73 416.14 L581.79 416.53 L580.86 416.93 L579.93 417.32 L579 417.72 L578.07 418.11 L579.93 423.29 L580.9 423 L581.87 422.72 L582.84 422.43 L583.81 422.15 L584.77 421.86 L585.74 421.58 L586.71 421.29 L587.68 421.01 L588.65 420.72 L589.62 420.44 L590.59 420.15 L591.56 419.87 L592.53 419.58 L593.5 419.3 L594.47 419.01 L595.44 418.73 L596.41 418.44 L597.38 418.16 L598.35 417.87 L599.32 417.59 L600.29 417.3 L601.26 417.02 L602.23 416.73 L603.2 416.45 L604.17 416.16 L605.14 415.88 L606.11 415.59 L607.08 415.31 L608.05 415.02 L609.02 414.74 Z"/><path d="M603.14 411.62 L603.6 413 L604.06 414.37 L604.51 415.75 L604.97 417.12 L605.43 418.5 L605.88 419.87 L606.34 421.25 L606.8 422.62 L607.25 424 L607.71 425.37 L608.17 426.75 L608.62 428.12 L609.08 429.5 L609.54 430.87 L609.99 432.25 L610.45 433.62 L610.91 435 L611.37 436.37 L611.82 437.75 L612.28 439.12 L612.74 440.5 L613.19 441.87 L613.65 443.25 L614.11 444.62 L614.56 446 L615.02 447.37 L615.48 448.75 L615.93 450.12 L616.39 451.5 L616.85 452.87 L619.75 452.13 L619.49 450.7 L619.23 449.28 L618.96 447.85 L618.7 446.43 L618.44 445 L618.17 443.58 L617.91 442.15 L617.65 440.73 L617.38 439.3 L617.12 437.88 L616.86 436.45 L616.59 435.03 L616.33 433.6 L616.07 432.18 L615.81 430.75 L615.54 429.33 L615.28 427.9 L615.02 426.48 L614.75 425.05 L614.49 423.63 L614.23 422.2 L613.96 420.78 L613.7 419.35 L613.44 417.93 L613.17 416.5 L612.91 415.08 L612.65 413.65 L612.38 412.23 L612.12 410.8 L611.86 409.38 Z"/><circle cx="579" cy="420.7" r="2.75"/><circle cx="618.3" cy="452.5" r="1.5"/><circle cx="607.5" cy="410.5" r="4.5"/>
<path d="M1581.15 686.33 L1583.63 685.36 L1586 684.24 L1588.33 683.12 L1590.64 682.01 L1592.94 680.92 L1595.21 679.84 L1597.47 678.78 L1599.72 677.75 L1601.96 676.74 L1604.18 675.75 L1606.38 674.78 L1608.58 673.84 L1610.76 672.92 L1612.94 672.02 L1615.1 671.15 L1617.25 670.31 L1619.39 669.49 L1621.51 668.69 L1623.61 667.85 L1625.69 667.04 L1627.77 666.26 L1629.84 665.5 L1631.9 664.76 L1633.95 664.05 L1636 663.37 L1638.03 662.71 L1640.06 662.08 L1642.09 661.47 L1644.1 660.89 L1646.11 660.33 L1648.12 659.79 L1650.11 659.28 L1652.1 658.8 L1654.08 658.33 L1656.06 657.9 L1658.03 657.49 L1660 657.1 L1661.96 656.73 L1663.91 656.39 L1665.86 656.08 L1667.81 655.78 L1669.75 655.52 L1671.68 655.27 L1673.61 655.05 L1675.54 654.85 L1677.46 654.68 L1679.38 654.53 L1681.29 654.4 L1683.2 654.3 L1685.11 654.22 L1687.01 654.16 L1688.91 654.12 L1690.81 654.11 L1692.7 654.12 L1694.59 654.16 L1696.48 654.21 L1698.37 654.29 L1700.25 654.4 L1702.14 654.52 L1704.02 654.67 L1705.9 654.84 L1707.78 655.03 L1709.65 655.25 L1711.53 655.49 L1713.4 655.75 L1715.28 656.03 L1717.15 656.33 L1719.03 656.66 L1720.9 657.01 L1722.77 657.38 L1724.65 657.77 L1726.52 658.18 L1728.4 658.62 L1730.27 659.08 L1732.15 659.56 L1734.03 660.06 L1735.91 660.58 L1737.79 661.12 L1739.67 661.69 L1741.55 662.28 L1743.44 662.89 L1745.32 663.52 L1747.21 664.17 L1749.1 664.84 L1751 665.54 L1752.9 666.25 L1754.8 666.99 L1756.7 667.75 L1758.6 668.53 L1760.51 669.33 L1762.43 670.15 L1764.34 670.99 L1766.26 671.85 L1768.19 672.73 L1770.12 673.64 L1772.05 674.56 L1773.99 675.51 L1775.93 676.47 L1777.87 677.46 L1779.83 678.47 L1781.78 679.49 L1783.74 680.54 L1785.71 681.61 L1787.68 682.7 L1789.66 683.81 L1791.64 684.94 L1793.63 686.08 L1795.63 687.25 L1797.63 688.44 L1799.64 689.65 L1801.65 690.88 L1803.67 692.13 L1805.7 693.39 L1807.73 694.68 L1809.78 695.99 L1811.83 697.32 L1813.88 698.66 L1815.95 700.03 L1818.02 701.41 L1820.1 702.82 L1823.9 697.18 L1821.79 695.77 L1819.68 694.38 L1817.59 693 L1815.49 691.65 L1813.41 690.32 L1811.33 689 L1809.26 687.7 L1807.19 686.43 L1805.13 685.17 L1803.08 683.93 L1801.03 682.72 L1798.99 681.52 L1796.95 680.34 L1794.92 679.18 L1792.89 678.04 L1790.87 676.92 L1788.85 675.83 L1786.84 674.75 L1784.83 673.69 L1782.83 672.65 L1780.83 671.64 L1778.84 670.64 L1776.85 669.66 L1774.86 668.71 L1772.87 667.77 L1770.89 666.86 L1768.92 665.96 L1766.94 665.09 L1764.97 664.24 L1763 663.41 L1761.04 662.6 L1759.07 661.81 L1757.11 661.04 L1755.15 660.3 L1753.19 659.57 L1751.24 658.87 L1749.29 658.19 L1747.33 657.53 L1745.38 656.89 L1743.43 656.28 L1741.49 655.68 L1739.54 655.11 L1737.59 654.56 L1735.65 654.03 L1733.7 653.53 L1731.76 653.04 L1729.81 652.58 L1727.87 652.14 L1725.93 651.73 L1723.98 651.33 L1722.04 650.96 L1720.09 650.61 L1718.15 650.29 L1716.2 649.99 L1714.26 649.71 L1712.31 649.45 L1710.36 649.22 L1708.41 649.01 L1706.46 648.82 L1704.51 648.65 L1702.55 648.51 L1700.6 648.4 L1698.64 648.3 L1696.68 648.23 L1694.72 648.19 L1692.75 648.16 L1690.79 648.17 L1688.82 648.19 L1686.85 648.24 L1684.87 648.31 L1682.9 648.41 L1680.92 648.53 L1678.93 648.67 L1676.95 648.84 L1674.96 649.04 L1672.96 649.25 L1670.97 649.5 L1668.97 649.76 L1666.96 650.05 L1664.95 650.37 L1662.94 650.71 L1660.92 651.07 L1658.9 651.46 L1656.87 651.87 L1654.84 652.31 L1652.81 652.78 L1650.76 653.26 L1648.72 653.78 L1646.67 654.31 L1644.61 654.88 L1642.55 655.46 L1640.48 656.08 L1638.4 656.72 L1636.32 657.38 L1634.23 658.07 L1632.14 658.78 L1630.04 659.52 L1627.93 660.28 L1625.82 661.07 L1623.7 661.89 L1621.57 662.73 L1619.44 663.6 L1617.32 664.55 L1615.2 665.53 L1613.07 666.54 L1610.94 667.58 L1608.8 668.65 L1606.65 669.74 L1604.5 670.86 L1602.35 672.01 L1600.18 673.19 L1598.01 674.39 L1595.84 675.63 L1593.66 676.9 L1591.47 678.2 L1589.29 679.53 L1587.1 680.91 L1584.91 682.32 L1582.74 683.8 L1580.65 685.47 Z"/><path d="M1827.96 700.66 L1827.75 699.69 L1827.54 698.72 L1827.33 697.74 L1827.12 696.77 L1826.91 695.8 L1826.7 694.83 L1826.49 693.85 L1826.28 692.88 L1826.08 691.91 L1825.87 690.93 L1825.66 689.96 L1825.45 688.99 L1825.24 688.02 L1825.03 687.04 L1824.82 686.07 L1824.61 685.1 L1824.4 684.13 L1824.19 683.15 L1823.98 682.18 L1823.77 681.21 L1823.56 680.23 L1823.35 679.26 L1823.14 678.29 L1822.94 677.32 L1822.73 676.34 L1822.52 675.37 L1822.31 674.4 L1822.1 673.43 L1821.89 672.45 L1821.68 671.48 L1816.72 672.12 L1816.76 673.11 L1816.81 674.11 L1816.85 675.1 L1816.9 676.1 L1816.94 677.09 L1816.98 678.08 L1817.03 679.08 L1817.07 680.07 L1817.12 681.07 L1817.16 682.06 L1817.2 683.05 L1817.25 684.05 L1817.29 685.04 L1817.34 686.04 L1817.38 687.03 L1817.42 688.02 L1817.47 689.02 L1817.51 690.01 L1817.56 691.01 L1817.6 692 L1817.64 692.99 L1817.69 693.99 L1817.73 694.98 L1817.78 695.97 L1817.82 696.97 L1817.86 697.96 L1817.91 698.96 L1817.95 699.95 L1818 700.94 L1818.04 701.94 Z"/><path d="M1822.64 696.81 L1821.2 697.01 L1819.76 697.21 L1818.32 697.41 L1816.88 697.61 L1815.44 697.81 L1814 698.01 L1812.56 698.21 L1811.12 698.41 L1809.68 698.61 L1808.24 698.81 L1806.8 699.01 L1805.36 699.21 L1803.92 699.41 L1802.48 699.61 L1801.04 699.81 L1799.6 700.01 L1798.16 700.21 L1796.72 700.41 L1795.28 700.61 L1793.84 700.81 L1792.4 701.01 L1790.96 701.21 L1789.52 701.41 L1788.08 701.61 L1786.64 701.81 L1785.2 702.01 L1783.76 702.21 L1782.32 702.41 L1780.88 702.61 L1779.44 702.81 L1779.76 706.79 L1781.21 706.76 L1782.67 706.73 L1784.12 706.69 L1785.57 706.66 L1787.03 706.63 L1788.48 706.59 L1789.93 706.56 L1791.39 706.52 L1792.84 706.49 L1794.29 706.46 L1795.75 706.42 L1797.2 706.39 L1798.65 706.36 L1800.11 706.32 L1801.56 706.29 L1803.01 706.26 L1804.47 706.22 L1805.92 706.19 L1807.37 706.16 L1808.83 706.12 L1810.28 706.09 L1811.73 706.05 L1813.19 706.02 L1814.64 705.99 L1816.09 705.95 L1817.55 705.92 L1819 705.89 L1820.45 705.85 L1821.91 705.82 L1823.36 705.79 Z"/><circle cx="1819.2" cy="671.8" r="2.5"/><circle cx="1779.6" cy="704.8" r="2"/><circle cx="1823" cy="701.3" r="4"/>
</g>
</svg>

<!-- logo overlay -->
<svg class="a" style="left:1340px;top:0" width="440" height="90" viewBox="1340 0 440 90">
 <path d="M1356 0 H1769 L1739 52 Q1732 84 1705 85.5 H1419 Q1398 84 1391 57 Z" fill="#f0f0f0"/>
 <g fill="none" stroke="#1fe5ee" stroke-width="3">
  <rect x="1444.5" y="14.5" width="9.8" height="23.8"/>
  <path d="M1464.5 28.7 H1478.5 V37.9 H1460"/>
  <path d="M1464.5 28.7 L1444.8 47.5 V56.5 L1453.5 64.7 H1478.5 V55.8 H1456.7 V43"/>
 </g>
 <g fill="none" stroke="#767676" stroke-width="2"><path d="M1492.1 36.8H1509.8M1500.9 36.8V53.9"/><path d="M1511.3 53.9V43.3Q1511.3 41.3 1513.3 41.3H1518.3"/><path d="M1522.8 41.3H1532.3Q1534.3 41.3 1534.3 43.3V52.9H1524.8Q1522.8 52.9 1522.8 50.9V48.4Q1522.8 46.4 1524.8 46.4H1534.3"/><path d="M1552.1 35.5V52.9H1542Q1540 52.9 1540 50.9V43.3Q1540 41.3 1542 41.3H1552.1"/><path d="M1558 41.3V53.9"/><path d="M1563.6 53.9V41.3H1573.4Q1575.4 41.3 1575.4 43.3V53.9"/><path d="M1592.9 41.3H1583.1Q1581.1 41.3 1581.1 43.3V50.9Q1581.1 52.9 1583.1 52.9H1592.9M1592.9 41.3V56.1Q1592.9 58.1 1590.9 58.1H1581.7"/><path d="M1619 36.8H1604.4V53.9M1604.4 45.5H1616.7"/><path d="M1623 41.3V53.9"/><path d="M1629.3 53.9V41.3H1639Q1641 41.3 1641 43.3V53.9"/><path d="M1658.2 35.5V52.9H1648.5Q1646.5 52.9 1646.5 50.9V43.3Q1646.5 41.3 1648.5 41.3H1658.2"/><path d="M1663.1 47.8H1675.4V43.3Q1675.4 41.3 1673.4 41.3H1665.1Q1663.1 41.3 1663.1 43.3V50.9Q1663.1 52.9 1665.1 52.9H1675.4"/><path d="M1680 53.9V43.3Q1680 41.3 1682 41.3H1687.7"/></g><g fill="#767676"><circle cx="1558" cy="36.3" r="1.2"/><circle cx="1623" cy="36.9" r="1.2"/></g>
</svg>
<!-- right toolbar -->
<svg class="a" style="left:1760px;top:21px" width="160" height="32" viewBox="1760 21 160 32">
 <rect x="1756" y="20" width="164" height="1" fill="#d9d9d9"/>
 <circle cx="1781" cy="36" r="5" fill="none" stroke="#222" stroke-width="1.6"/><path d="M1784.5 39.5l4 4" stroke="#222" stroke-width="1.8"/>
 <circle cx="1813" cy="38" r="5.5" fill="none" stroke="#444" stroke-width="1.4"/><circle cx="1813" cy="36.3" r="1.8" fill="none" stroke="#444" stroke-width="1.1"/><path d="M1809.5 42q3.5-3.5 7 0" fill="none" stroke="#444" stroke-width="1.1"/>
 <circle cx="1822.5" cy="33.5" r="6" fill="#d92d20"/><text x="1820.3" y="38" font-size="10" font-weight="bold" fill="#fff" font-family="Liberation Sans">1</text>
 <path d="M1855 29l3 3-3 3-3-3z" fill="none" stroke="#38b24a" stroke-width="1.4"/>
 <text x="1850" y="45" font-size="7" font-weight="bold" fill="#38b24a" font-family="Liberation Sans">LVL</text>
 <rect x="1870.5" y="31.5" width="44" height="14" rx="1" fill="#fff" stroke="#bdbdbd"/>
 <rect x="1871" y="32" width="8" height="13" fill="#2fd82f"/>
</svg>

<!-- annotations -->
<div class="ann" id="t1" style="left:905px;top:83px;font-size:32px;transform:scaleX(0.862)">Düşüş Trendi</div>
<div class="ann" id="t2" style="left:494px;top:373px;font-size:29.5px;transform:scaleX(0.91)">Overbought zone</div>
<div class="ann" id="t3" style="left:1267px;top:639.5px;width:340px;font-size:31.5px;line-height:36.7px;text-align:center;transform:scaleX(0.92);transform-origin:170px 0">Artı 50'nin üzerindeki<br>değerler aşırı alım<br>koşullarını gösterir</div>

<div class="a" id="tabs">
  <span style="left:14px">AUDNZD,H1</span><i style="left:92px"></i>
  <span style="left:104px">DOGEUSD,H4</span><i style="left:189px"></i>
  <span style="left:200px">CADCHF,M30</span><i style="left:283px"></i>
  <span style="left:294px">EURUSD,M30</span><i style="left:377px"></i>
  <span style="left:387px">CHFJPY,Daily</span><i style="left:467px"></i>
  <span style="left:478px">AUDCHF,H4</span><i style="left:554px"></i>
  <span style="left:566px">AUDUSD,H4</span>
  <div class="a" style="left:645px;top:-1px;width:92px;height:19px;background:#fff;border:1px solid #bbb;border-top:none"></div>
  <span style="left:656px;color:#222">GBPUSD,M15</span>
</div>
<svg class="a" style="left:1880px;top:952px" width="36" height="16" viewBox="1880 952 36 16"><path d="M1888.5 956.5l-2.5 3.5 2.5 3.5M1906 956.5l2.5 3.5-2.5 3.5" fill="none" stroke="#b8b8b8" stroke-width="1.3"/></svg>
<div class="a" id="lbar"></div>
<div class="a" style="left:1768px;top:0;width:148px;height:1px;background:#fff"></div>
</body></html>
